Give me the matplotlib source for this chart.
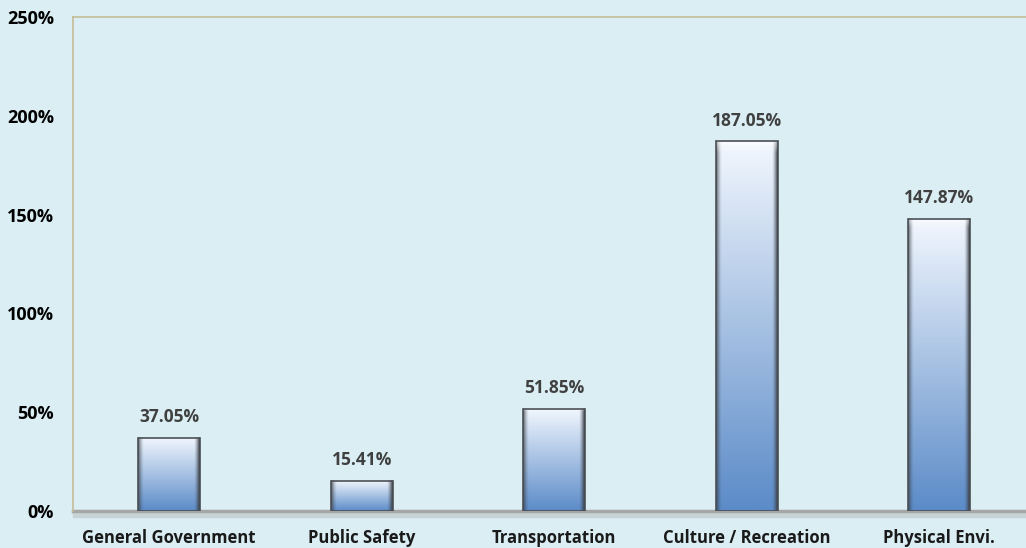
import numpy as np
import matplotlib
matplotlib.use("Agg")
import matplotlib.pyplot as plt
from matplotlib.colors import to_rgb
from matplotlib.patches import Rectangle

categories = ["General Government", "Public Safety", "Transportation",
              "Culture / Recreation", "Physical Envi."]
values = [37.05, 15.41, 51.85, 187.05, 147.87]
value_labels = ["37.05%", "15.41%", "51.85%", "187.05%", "147.87%"]
y_ticks = [0, 50, 100, 150, 200, 250]
y_tick_labels = ["0%", "50%", "100%", "150%", "200%", "250%"]

bg = "#DAEEF3"
plt.rcParams['font.family'] = ['Open Sans', 'DejaVu Sans']

fig = plt.figure(figsize=(10.26, 5.48), dpi=100, facecolor=bg)
ax = fig.add_axes([73 / 1026, 37 / 548, 5 * 192.5 / 1026, 494 / 548])
ax.set_facecolor(bg)
ax.set_xlim(-0.5, 4.5)
ax.set_ylim(0, 250)

bar_w = 0.32


def bar_image(nrows=200, ncols=64):
    # vertical gradient, light on top, blue at the bottom
    top = np.array(to_rgb("#F2F7FE"))
    bottom = np.array(to_rgb("#5B8BC8"))
    t = np.linspace(0, 1, nrows)[:, None, None]
    img = top * (1 - t) + bottom * t
    img = np.repeat(img, ncols, axis=1)
    # dark bevel at the sides
    dark = np.array(to_rgb("#3A4048"))
    x = np.linspace(0, 1, ncols)
    side = np.clip(1 - np.minimum(x, 1 - x) / 0.09, 0, 1) ** 1.5
    side = side * np.where(x > 0.5, 1.0, 0.75)
    img = img * (1 - side[None, :, None]) + dark * side[None, :, None]
    # light bevel at the top
    ntop = 6
    for r in range(ntop):
        k = 0.5 * (1 - r / ntop)
        img[r] = img[r] * (1 - k) + np.array([1, 1, 1]) * k
    return img


img = bar_image()
for i, v in enumerate(values):
    x0, x1 = i - bar_w / 2, i + bar_w / 2
    ax.imshow(img, extent=(x0, x1, 0, v), aspect='auto', zorder=3,
              interpolation='bilinear')
    ax.add_patch(Rectangle((x0, 0), bar_w, v, fill=False,
                           edgecolor="#4A4F55", linewidth=1.2, zorder=4))
    ax.text(i, v + 6, value_labels[i], ha='center', va='bottom',
            fontsize=12.5, fontweight='bold', color="#404040", zorder=5)

# floor at zero
ax.axhline(0, color="#A6A6A6", linewidth=2.5, zorder=2, clip_on=False)
ax.axhspan(-3, 0, color="#C8D3D6", zorder=1, clip_on=False)

for s in ["right", "bottom"]:
    ax.spines[s].set_visible(False)
for s in ["left", "top"]:
    ax.spines[s].set_color("#C4BD97")
    ax.spines[s].set_linewidth(1.2)

ax.set_yticks(y_ticks)
ax.set_yticklabels(y_tick_labels, fontsize=13, fontweight='bold')
ax.set_xticks(range(len(categories)))
ax.set_xticklabels(categories, fontsize=12, fontweight='bold', color="#1A1A1A")
ax.tick_params(axis='y', length=0, pad=13.5)
ax.tick_params(axis='x', length=0, pad=13)

fig.savefig("out.png", dpi=100, facecolor=bg)
